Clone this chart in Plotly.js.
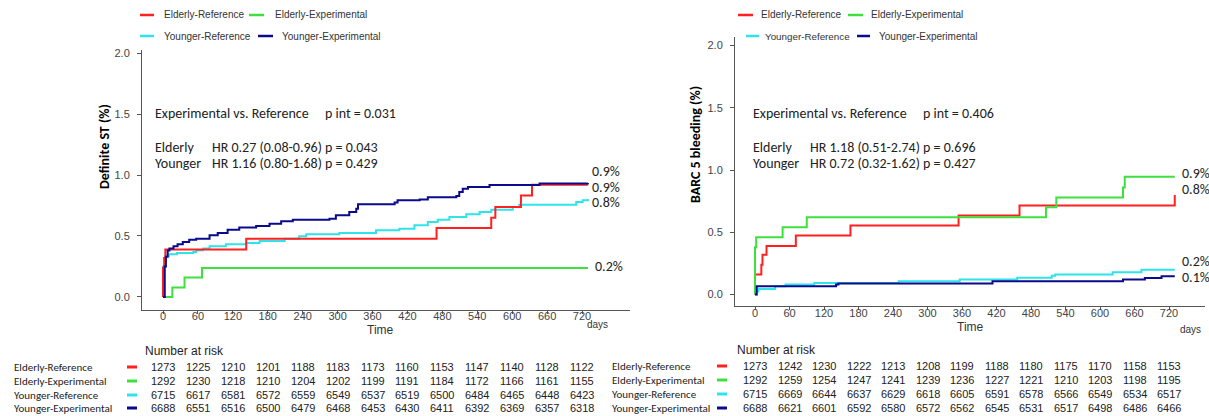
<!DOCTYPE html>
<html><head><meta charset="utf-8">
<script src="https://cdn.plot.ly/plotly-3.0.1.min.js"></script>
<style>html,body{margin:0;padding:0;background:#fff}#chart{width:1209px;height:416px}</style>
</head><body><div id="chart"></div>
<script>
// ---------- data ----------
const SERIES = ["Elderly-Reference","Elderly-Experimental","Younger-Reference","Younger-Experimental"];
const COLORS = ["#ff2020","#3ee03e","#2ee4ea","#0a0a8c"];
const X_TICKS = [0,60,120,180,240,300,360,420,480,540,600,660,720];
const Y_TICKS = [0,0.5,1,1.5,2];
const Y_TICKTEXT = ["0.0","0.5","1.0","1.5","2.0"];

// Definite ST (%) — cumulative incidence, step points (day, %)
const st_er_days = [0,0,2,4,143,470,564,571,615,634,730];
const st_er_vals = [0,0.24,0.32,0.39,0.478,0.566,0.65,0.738,0.831,0.921,0.921];
const st_ee_days = [0,16,37,67,730];
const st_ee_vals = [0,0.077,0.159,0.238,0.238];
const st_yr_days = [0,0,4,10,24,52,57,69,80,108,143,166,209,234,246,303,366,406,432,455,472,492,521,544,564,601,612,710,721,730];
const st_yr_vals = [0,0.25,0.333,0.35,0.36,0.369,0.383,0.397,0.415,0.432,0.443,0.459,0.478,0.497,0.514,0.525,0.546,0.56,0.587,0.615,0.634,0.656,0.678,0.697,0.716,0.738,0.757,0.779,0.793,0.803];
const st_ye_days = [0,3,5,8,11,18,25,34,45,57,80,94,111,131,160,183,203,223,286,297,320,332,335,398,403,441,455,504,509,515,524,561,647,730];
const st_ye_vals = [0,0.25,0.33,0.38,0.397,0.415,0.432,0.451,0.47,0.478,0.506,0.525,0.552,0.569,0.582,0.601,0.62,0.634,0.642,0.67,0.697,0.724,0.76,0.774,0.793,0.80,0.817,0.828,0.861,0.888,0.902,0.918,0.93,0.934];

// BARC 5 bleeding (%)
const bl_er_days = [0,0,11,13,20,71,166,354,460,730];
const bl_er_vals = [0,0.16,0.24,0.32,0.39,0.475,0.555,0.635,0.715,0.80];
const bl_ee_days = [0,0,2,48,90,506,524,640,643,730];
const bl_ee_vals = [0,0.38,0.46,0.54,0.62,0.70,0.78,0.86,0.945,0.945];
const bl_yr_days = [0,3,6,35,53,103,250,356,456,516,522,622,672,730];
const bl_yr_vals = [0,0.025,0.045,0.066,0.08,0.093,0.106,0.12,0.135,0.15,0.16,0.18,0.2,0.2];
const bl_ye_days = [0,3,141,145,413,640,678,707,730];
const bl_ye_vals = [0,0.066,0.08,0.088,0.106,0.12,0.133,0.147,0.147];

// Number at risk
const risk_st_er = [1273,1225,1210,1201,1188,1183,1173,1160,1153,1147,1140,1128,1122];
const risk_st_ee = [1292,1230,1218,1210,1204,1202,1199,1191,1184,1172,1166,1161,1155];
const risk_st_yr = [6715,6617,6581,6572,6559,6549,6537,6519,6500,6484,6465,6448,6423];
const risk_st_ye = [6688,6551,6516,6500,6479,6468,6453,6430,6411,6392,6369,6357,6318];
const risk_bl_er = [1273,1242,1230,1222,1213,1208,1199,1188,1180,1175,1170,1158,1153];
const risk_bl_ee = [1292,1259,1254,1247,1241,1239,1236,1227,1221,1210,1203,1198,1195];
const risk_bl_yr = [6715,6669,6644,6637,6629,6618,6605,6591,6578,6566,6549,6534,6517];
const risk_bl_ye = [6688,6621,6601,6592,6580,6572,6562,6545,6531,6517,6498,6486,6466];

const st_end_labels = ["0.9%","0.9%","0.8%","0.2%"];
const bl_end_labels = ["0.9%","0.8%","0.2%","0.1%"];
const st_stats = ["Experimental vs. Reference","p int = 0.031","Elderly","HR 0.27 (0.08-0.96) p = 0.043","Younger","HR 1.16 (0.80-1.68) p = 0.429"];
const bl_stats = ["Experimental vs. Reference","p int = 0.406","Elderly","HR 1.18 (0.51-2.74) p = 0.696","Younger","HR 0.72 (0.32-1.62) p = 0.427"];

// ---------- drawing ----------
const W = 1209, H = 416;
const px = x => x / W, py = y => 1 - y / H;
const CAL = "Carlito, Lato, sans-serif";
const ARI = "Liberation Sans, Arial, sans-serif";
const NAR = "Liberation Sans Narrow, Arial Narrow, Liberation Sans, sans-serif";

const stSets = [[st_er_days,st_er_vals],[st_ee_days,st_ee_vals],[st_yr_days,st_yr_vals],[st_ye_days,st_ye_vals]];
const blSets = [[bl_er_days,bl_er_vals],[bl_ee_days,bl_ee_vals],[bl_yr_days,bl_yr_vals],[bl_ye_days,bl_ye_vals]];
const drawOrder = [2,0,1,3];
const traces = [];
drawOrder.forEach(i => traces.push({x: stSets[i][0], y: stSets[i][1], xaxis:'x', yaxis:'y', mode:'lines', line:{shape:'hv', color:COLORS[i], width:2}, showlegend:false, hoverinfo:'skip'}));
drawOrder.forEach(i => traces.push({x: blSets[i][0], y: blSets[i][1], xaxis:'x2', yaxis:'y2', mode:'lines', line:{shape:'hv', color:COLORS[i], width:2}, showlegend:false, hoverinfo:'skip'}));

function axX(dom, range, anchor, so){
  return {domain:dom, range:range, anchor:anchor, tickvals:X_TICKS, ticktext:X_TICKS.map(String),
    showline:true, linecolor:'#555', linewidth:1, ticks:'outside', ticklen:3, tickcolor:'#555',
    ticklabelstandoff:so, tickfont:{family:NAR, size:11, color:'#444'}, showgrid:false, zeroline:false, fixedrange:true};
}
function axY(dom, range, anchor){
  return {domain:dom, range:range, anchor:anchor, tickvals:Y_TICKS, ticktext:Y_TICKTEXT,
    showline:true, linecolor:'#555', linewidth:1, ticks:'outside', ticklen:4, tickcolor:'#555',
    ticklabelstandoff:5, tickfont:{family:NAR, size:11, color:'#444'}, showgrid:false, zeroline:false, fixedrange:true};
}

const ann = [];
const shapes = [];
function txt(x, y, t, o){
  ann.push(Object.assign({xref:'paper', yref:'paper', x:px(x), y:py(y), text:t, showarrow:false,
    xanchor:'left', yanchor:'middle', font:{family:CAL, size:14, color:'#222'}}, o||{}));
}
function seg(x0, x1, y, c, w){
  shapes.push({type:'line', xref:'paper', yref:'paper', x0:px(x0), x1:px(x1), y0:py(y), y1:py(y), line:{color:c, width:w}});
}

// legends
const legL = [[140,154,15,162,10],[249,264,15,273,10],[140,154,36,162,10],[258,273,36,280,10]];
const legR = [[738,753,15,759,10],[848,863,15,869,10],[746,759,36,763,9.8],[857,870,36,877,10]];
[legL, legR].forEach(L => L.forEach((p,i) => {
  seg(p[0], p[1], p[2], COLORS[i], 2.5);
  txt(p[3], p[2], SERIES[i], {font:{family:ARI, size:p[4], color:'#333'}});
}));

// stats texts
function stats(S, x0, x1, x2){
  txt(x0, 113, S[0]); txt(x1, 113, S[1]);
  txt(x0, 147, S[2]); txt(x2, 147, S[3]);
  txt(x0, 164, S[4]); txt(x2, 164, S[5]);
}
stats(st_stats, 153, 323, 210);
stats(bl_stats, 751, 921, 808);

// end labels
const stEndY = [171,187,202,266], stEndX = [590,590,590,593];
st_end_labels.forEach((t,i) => txt(stEndX[i], stEndY[i], t));
const blEndY = [173,190,261,277];
bl_end_labels.forEach((t,i) => txt(1180, blEndY[i], t));

// axis titles
txt(104, 147, "<b>Definite ST (%)</b>", {textangle:-90, xanchor:'center', font:{family:CAL, size:14, color:'#000'}});
txt(695, 145, "<b>BARC 5 bleeding (%)</b>", {textangle:-90, xanchor:'center', font:{family:CAL, size:14, color:'#000'}});
txt(380, 330, "Time", {xanchor:'center', font:{family:ARI, size:12, color:'#333'}});
txt(597, 324, "days", {xanchor:'center', font:{family:ARI, size:10, color:'#333'}});
txt(970, 327, "Time", {xanchor:'center', font:{family:ARI, size:12, color:'#333'}});
txt(1190, 329, "days", {xanchor:'center', font:{family:ARI, size:10, color:'#333'}});

// risk tables
function table(risks, xa, labelX, dashX, headX, headY, rowsY){
  txt(headX, headY, "Number at risk", {font:{family:ARI, size:12, color:'#222'}});
  risks.forEach((row, i) => {
    txt(labelX, rowsY[i], SERIES[i], {font:{family:CAL, size:11, color:'#222'}});
    seg(dashX, dashX+10, rowsY[i], COLORS[i], 3);
    row.forEach((n, j) => ann.push({xref:xa, yref:'paper', x:X_TICKS[j], y:py(rowsY[i]), text:String(n), showarrow:false,
      xanchor:'center', yanchor:'middle', font:{family:NAR, size:11, color:'#222'}}));
  });
}
table([risk_st_er,risk_st_ee,risk_st_yr,risk_st_ye], 'x', 12, 127, 143, 351, [367,381,395,408]);
table([risk_bl_er,risk_bl_ee,risk_bl_yr,risk_bl_ye], 'x2', 610, 717, 735, 350, [366,380,394,408]);

const layout = {
  width:W, height:H, margin:{l:0,r:0,t:0,b:0}, paper_bgcolor:'#fff', plot_bgcolor:'#fff', showlegend:false,
  xaxis: axX([px(142), px(630)], [-36.1, 802.4], 'y', -7),
  yaxis: axY([py(310), py(50)], [-0.107, 2.025], 'x'),
  xaxis2: axX([px(735), px(1205)], [-34.8, 782.6], 'y2', -6),
  yaxis2: axY([py(306), py(37)], [-0.092, 2.068], 'x2'),
  annotations: ann, shapes: shapes
};
Plotly.newPlot('chart', traces, layout, {staticPlot:true, displayModeBar:false});
</script></body></html>
